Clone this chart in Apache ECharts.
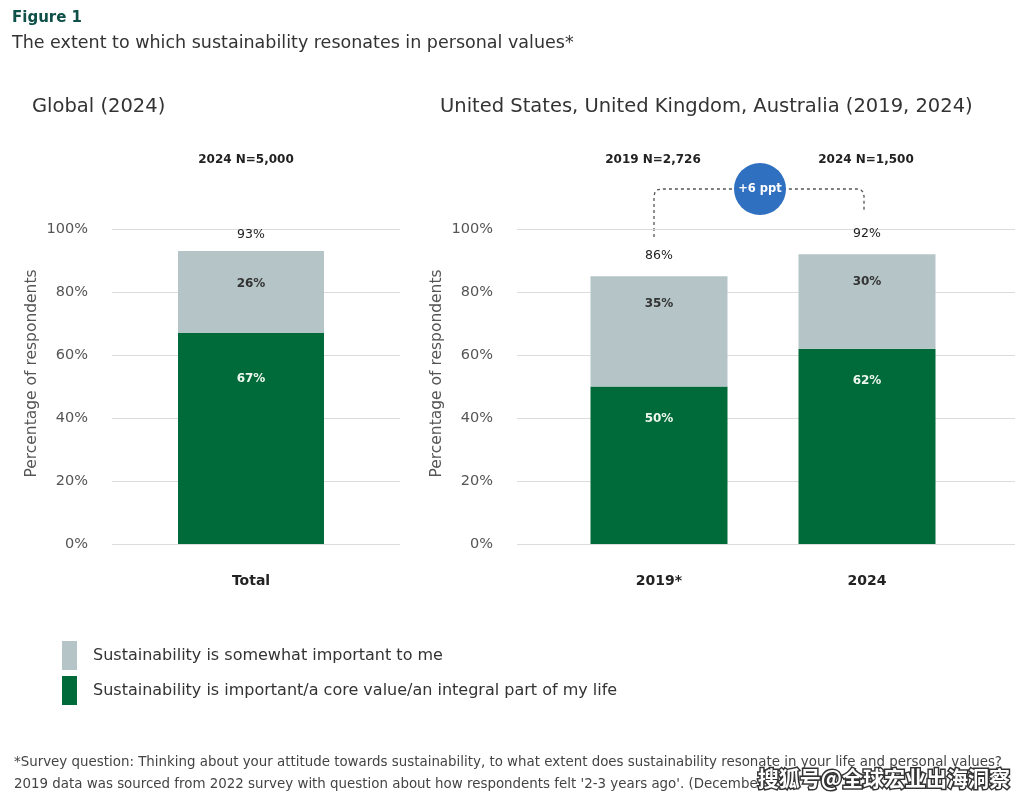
<!DOCTYPE html>
<html>
<head>
<meta charset="utf-8">
<script src="https://cdn.jsdelivr.net/npm/echarts@6/dist/echarts.min.js"></script>
<style>html,body{margin:0;padding:0;background:#fff;}#c{width:1028px;height:802px;}</style>
</head>
<body>
<div id="c"></div>
<script>
// ---- data ----
const leftCategories = ['Total'];
const leftCore = [67];
const leftSomewhat = [26];
const leftTotals = [93];

const rightCategories = ['2019*', '2024'];
const rightCore = [50, 62];
const rightSomewhat = [35, 30];
const rightTotals = [86, 92];

const yTicks = [0, 20, 40, 60, 80, 100];
const seriesNames = ['Sustainability is somewhat important to me', 'Sustainability is important/a core value/an integral part of my life'];
const sampleLabels = ['2024 N=5,000', '2019 N=2,726', '2024 N=1,500'];
const changeLabel = '+6 ppt';

const GREEN = '#006b3a', GREY = '#b5c4c6';
const FONT = '"DejaVu Sans", "Noto Sans", sans-serif';

const chart = echarts.init(document.getElementById('c'), null, {renderer: 'canvas'});

const gridTop = 229, gridHeight = 315;
function bgY(gi) {
  return {
    gridIndex: gi, type: 'value', min: yTicks[0], max: yTicks[yTicks.length - 1], interval: 20,
    axisLine: {show: false}, axisTick: {show: false},
    axisLabel: {formatter: '{value}%', color: '#555', fontSize: 14.5, fontFamily: FONT, margin: 24},
    splitLine: {lineStyle: {color: '#dcdcdc', width: 1}},
    name: 'Percentage of respondents', nameLocation: 'middle', nameGap: 72,
    nameTextStyle: {color: '#555', fontSize: 15.5, fontFamily: FONT, padding: [0, 0, 0, 26]}
  };
}
function hidY(gi) {
  return {gridIndex: gi, type: 'value', min: 0, max: 100, show: false, splitLine: {show: false}};
}
function hidX(gi) {
  return {gridIndex: gi, type: 'category', data: [''], show: false};
}
function catX(gi, data) {
  return {gridIndex: gi, type: 'category', data: data,
    axisLine: {show: false}, axisTick: {show: false},
    axisLabel: {color: '#222', fontSize: 14, fontWeight: 'bold', fontFamily: FONT, margin: 30}};
}
function barSeries(xi, stack, core, some, totals, bw, dCore, dSome, dTot) {
  return [
    {name: seriesNames[1], type: 'bar', stack: stack, xAxisIndex: xi, yAxisIndex: xi, barWidth: bw,
      data: core, itemStyle: {color: GREEN},
      label: {show: true, position: 'insideTop', distance: dCore, formatter: '{c}%', color: '#eef7ee',
        fontSize: 12, fontWeight: 'bold', fontFamily: FONT}},
    {name: seriesNames[0], type: 'bar', stack: stack, xAxisIndex: xi, yAxisIndex: xi, barWidth: bw,
      data: some, itemStyle: {color: GREY},
      label: {show: true, position: 'insideTop', distance: dSome, formatter: '{c}%', color: '#333',
        fontSize: 12, fontWeight: 'bold', fontFamily: FONT}},
    {name: 'total' + stack, type: 'bar', stack: stack, xAxisIndex: xi, yAxisIndex: xi, barWidth: bw,
      data: totals.map(() => 0), itemStyle: {color: 'transparent'},
      label: {show: true, position: 'top', distance: dTot,
        formatter: p => totals[p.dataIndex] + '%', color: '#222', fontSize: 12.5, fontFamily: FONT}}
  ];
}

const dashStyle = {stroke: '#555', lineWidth: 1.3, lineDash: [3, 3], fill: null};

const option = {
  backgroundColor: '#fff',
  animation: false,
  textStyle: {fontFamily: FONT},
  title: [
    {text: 'Figure 1', left: 12, top: 11, padding: 0, textStyle: {color: '#0f5048', fontSize: 15, fontWeight: 'bold', fontFamily: FONT}},
    {text: 'The extent to which sustainability resonates in personal values*', left: 12, top: 34, padding: 0,
      textStyle: {color: '#333', fontSize: 17.5, fontWeight: 'normal', fontFamily: FONT}},
    {text: 'Global (2024)', left: 32, top: 97, padding: 0, textStyle: {color: '#333', fontSize: 19.5, fontWeight: 'normal', fontFamily: FONT}},
    {text: 'United States, United Kingdom, Australia (2019, 2024)', left: 440, top: 97, padding: 0,
      textStyle: {color: '#333', fontSize: 19.5, fontWeight: 'normal', fontFamily: FONT}}
  ],
  legend: {
    orient: 'vertical', left: 62, top: 641, padding: 0, itemWidth: 15, itemHeight: 29, itemGap: 6,
    data: [seriesNames[0], seriesNames[1]],
    textStyle: {color: '#333', fontSize: 16, fontFamily: FONT, padding: [0, 0, 0, 11]},
    icon: 'rect'
  },
  grid: [
    {left: 112, width: 288, top: gridTop, height: gridHeight},
    {left: 106, width: 290, top: gridTop, height: gridHeight},
    {left: 517, width: 498, top: gridTop, height: gridHeight},
    {left: 555, width: 416, top: gridTop, height: gridHeight}
  ],
  xAxis: [hidX(0), catX(1, leftCategories), hidX(2), catX(3, rightCategories)],
  yAxis: [bgY(0), hidY(1), bgY(2), hidY(3)],
  series: [].concat(
    barSeries(1, 'L', leftCore, leftSomewhat, leftTotals, 146, 40, 27, 10),
    barSeries(3, 'R', rightCore, rightSomewhat, rightTotals, 137, 26, 22, 14)
  ),
  graphic: [
    {type: 'text', x: 246, y: 160, style: {text: sampleLabels[0], align: 'center', verticalAlign: 'middle',
      fill: '#222', font: 'bold 12px ' + FONT}},
    {type: 'text', x: 653, y: 160, style: {text: sampleLabels[1], align: 'center', verticalAlign: 'middle',
      fill: '#222', font: 'bold 12px ' + FONT}},
    {type: 'text', x: 866, y: 160, style: {text: sampleLabels[2], align: 'center', verticalAlign: 'middle',
      fill: '#222', font: 'bold 12px ' + FONT}},
    {type: 'polyline', shape: {points: [[654, 237], [654, 196], [655, 192], [657, 190], [661, 189], [857, 189], [861, 190], [863, 192], [864, 196], [864, 212]]},
      style: dashStyle},
    {type: 'circle', shape: {cx: 760, cy: 189, r: 26}, style: {fill: '#2f70c0'}},
    {type: 'text', x: 760, y: 189, style: {text: changeLabel, align: 'center', verticalAlign: 'middle',
      fill: '#fff', font: 'bold 11.5px ' + FONT}},
    {type: 'text', x: 14, y: 763, style: {text: '*Survey question: Thinking about your attitude towards sustainability, to what extent does sustainability resonate in your life and personal values?',
      verticalAlign: 'middle', fill: '#444', font: '13.4px ' + FONT}},
    {type: 'text', x: 14, y: 785, style: {text: "2019 data was sourced from 2022 survey with question about how respondents felt '2-3 years ago'. (December",
      verticalAlign: 'middle', fill: '#444', font: '13.4px ' + FONT}},
    {type: 'text', x: 1010, y: 778, z: 100, style: {text: '搜狐号@全球宏业出海洞察', align: 'right', verticalAlign: 'middle',
      fill: '#fff', stroke: '#333', lineWidth: 3, font: 'bold 21px "Noto Sans CJK SC", sans-serif'}}
  ]
};
chart.setOption(option);
</script>
</body>
</html>
